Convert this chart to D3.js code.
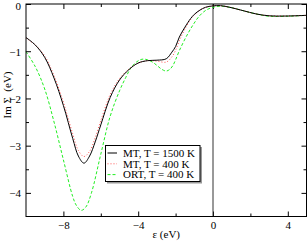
<!DOCTYPE html>
<html><head><meta charset="utf-8">
<script src="https://cdn.jsdelivr.net/npm/d3@7"></script>
<style>html,body{margin:0;padding:0;background:#fff;}svg{display:block;}</style>
</head><body>
<script>
// Data
const energyMT1500 = [-10,-9.5,-9,-8.5,-8,-7.5,-7.2,-6.9,-6.6,-6.3,-6,-5.5,-5,-4.5,-4,-3.5,-3,-2.5,-2.2,-2,-1.8,-1.5,-1.2,-1,-0.7,-0.4,0,0.4,0.9,1.6,2.3,3,3.9,5];
const imSigmaMT1500 = [-0.71,-0.87,-1.13,-1.57,-2.15,-2.85,-3.22,-3.37,-3.22,-2.92,-2.56,-1.98,-1.61,-1.39,-1.25,-1.2,-1.19,-1.16,-1.02,-0.90,-0.70,-0.49,-0.31,-0.22,-0.13,-0.07,-0.04,-0.035,-0.07,-0.14,-0.21,-0.25,-0.255,-0.24];
const energyMT400 = [-10,-9.5,-9,-8.5,-8,-7.5,-7.2,-6.9,-6.6,-6.3,-6,-5.5,-5,-4.5,-4,-3.5,-3,-2.5,-2.2,-2,-1.8,-1.5,-1.2,-1,-0.7,-0.4,0,0.4,0.9,1.6,2.3,3,3.9,5];
const imSigmaMT400 = [-0.72,-0.87,-1.1,-1.52,-2.08,-2.75,-3.1,-3.23,-3.12,-2.83,-2.47,-1.92,-1.58,-1.38,-1.25,-1.2,-1.21,-1.23,-1.12,-0.98,-0.78,-0.53,-0.33,-0.23,-0.13,-0.07,-0.04,-0.035,-0.07,-0.14,-0.21,-0.25,-0.255,-0.24];
const energyORT400 = [-10,-9.5,-9,-8.5,-8,-7.5,-7.3,-7.05,-6.8,-6.5,-6,-5.5,-5,-4.67,-4.4,-4.1,-3.8,-3.5,-3.2,-3,-2.75,-2.5,-2.3,-2.14,-2,-1.79,-1.43,-1.08,-0.72,-0.37,0,0.4,0.9,1.6,2.3,3,3.9,5];
const imSigmaORT400 = [-1.01,-1.33,-1.8,-2.5,-3.3,-4.08,-4.27,-4.37,-4.3,-4.0,-3.18,-2.38,-1.84,-1.56,-1.36,-1.23,-1.17,-1.18,-1.24,-1.3,-1.38,-1.42,-1.38,-1.30,-1.18,-0.98,-0.69,-0.45,-0.25,-0.13,-0.07,-0.045,-0.07,-0.14,-0.21,-0.26,-0.26,-0.24];
const seriesNames = ["MT, T = 1500 K", "MT, T = 400 K", "ORT, T = 400 K"];
const xMajorTicks = [-8,-4,0,4];
const xMinorTicks = [-6,-2,2];
const yMajorTicks = [0,-1,-2,-3,-4];
const yMinorTicks = [-0.5,-1.5,-2.5,-3.5];

const W = 308, H = 241;
const L = 26, R = 306.5, T = 4, B = 216.5;
const svg = d3.select("body").append("svg").attr("width", W).attr("height", H);
const x = d3.scaleLinear().domain([-10, 5]).range([L, R]);
const y = d3.scaleLinear().domain([0, -4.5]).range([T, B]);
const font = "'Liberation Serif', 'Times New Roman', serif";

// axes (ticks inside, mirrored)
function tickAxis(axisFn, scale, ticks, size, tr, labels) {
  const a = axisFn(scale).tickValues(ticks).tickSize(size).tickSizeOuter(0);
  if (labels) a.tickFormat(d3.format("d")); else a.tickFormat("");
  const g = svg.append("g").attr("transform", tr).call(a);
  g.select(".domain").remove();
  g.selectAll("line").attr("stroke", "#000").attr("stroke-width", 1);
  return g;
}
// bottom
const gxb = tickAxis(d3.axisTop, x, xMajorTicks, 5, `translate(0,${B})`, true);
gxb.selectAll("text").attr("y", 12.5).attr("dy", null).attr("font-family", font).attr("font-size", 11).attr("fill", "#000").attr("text-anchor", "middle").attr("dominant-baseline", "auto");
tickAxis(d3.axisTop, x, xMinorTicks, 3, `translate(0,${B})`, false);
// top
tickAxis(d3.axisBottom, x, xMajorTicks, 5, `translate(0,${T})`, false);
tickAxis(d3.axisBottom, x, xMinorTicks, 3, `translate(0,${T})`, false);
// left
const gyl = tickAxis(d3.axisRight, y, yMajorTicks, 5, `translate(${L},0)`, true);
gyl.selectAll("text").attr("x", -5).attr("dy", "0.35em").attr("text-anchor", "end").attr("font-family", font).attr("font-size", 11).attr("fill", "#000");
gyl.selectAll("text").filter(d => d === 0).attr("dy", "0.5em");
tickAxis(d3.axisRight, y, yMinorTicks, 3, `translate(${L},0)`, false);
// right
tickAxis(d3.axisLeft, y, yMajorTicks, 5, `translate(${R},0)`, false);
tickAxis(d3.axisLeft, y, yMinorTicks, 3, `translate(${R},0)`, false);

// vertical line at 0
svg.append("line").attr("x1", x(0)).attr("x2", x(0)).attr("y1", T).attr("y2", B)
  .attr("stroke", "#333").attr("stroke-width", 1);

const line = d3.line().x(d => x(d[0])).y(d => y(d[1])).curve(d3.curveCatmullRom.alpha(0.5));
const series = [
  {e: energyORT400, v: imSigmaORT400, color: "#22ee22", dash: "3,2", w: 1},
  {e: energyMT400, v: imSigmaMT400, color: "#ff5050", dash: "1,2", w: 1},
  {e: energyMT1500, v: imSigmaMT1500, color: "#000", dash: null, w: 1}
];
series.forEach(s => {
  svg.append("path").datum(s.e.map((e, i) => [e, s.v[i]]))
    .attr("d", line).attr("fill", "none").attr("stroke", s.color)
    .attr("stroke-width", s.w).attr("stroke-dasharray", s.dash);
});

// frame
svg.append("rect").attr("x", L).attr("y", T).attr("width", R - L).attr("height", B - T)
  .attr("fill", "none").attr("stroke", "#000").attr("stroke-width", 1);

// axis labels
svg.append("text").attr("x", (L + R) / 2).attr("y", 237.5).attr("text-anchor", "middle")
  .attr("font-family", font).attr("font-size", 11).text("ε (eV)");
svg.append("text").attr("transform", "translate(10.5,95) rotate(-90)").attr("text-anchor", "middle")
  .attr("font-family", font).attr("font-size", 11).attr("xml:space", "preserve").text("Im Σ  (eV)");

// legend
const lg = svg.append("g");
lg.append("rect").attr("x", 107).attr("y", 147).attr("width", 95).attr("height", 36.5).attr("fill", "#999");
lg.append("rect").attr("x", 105.5).attr("y", 145.5).attr("width", 94.5).attr("height", 36).attr("fill", "#fff").attr("stroke", "#000").attr("stroke-width", 1);
const legStyles = [series[2], series[1], series[0]];
seriesNames.forEach((n, i) => {
  const yy = 153 + i * 10.8;
  lg.append("line").attr("x1", 107.5).attr("x2", 117).attr("y1", yy).attr("y2", yy)
    .attr("stroke", legStyles[i].color).attr("stroke-width", 1).attr("stroke-dasharray", legStyles[i].dash);
  lg.append("text").attr("x", 123).attr("y", yy + 3.7).attr("font-family", font).attr("font-size", 11).text(n);
});
</script>
</body></html>
